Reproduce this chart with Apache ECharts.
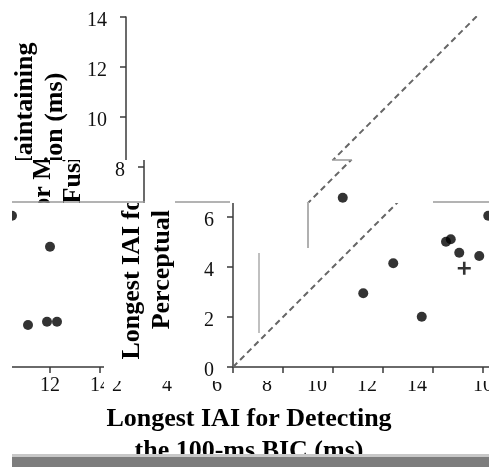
<!DOCTYPE html>
<html>
<head>
<meta charset="utf-8">
<script src="https://cdn.jsdelivr.net/npm/echarts@6/dist/echarts.min.js"></script>
<style>
  html, body { margin: 0; padding: 0; background: #fff; }
  #page { position: relative; width: 489px; height: 467px; overflow: hidden; background: #fff; }
  .tile { position: absolute; overflow: hidden; }
  .tile > div { position: absolute; width: 700px; height: 467px; }
  #overlay { position: absolute; left: 0; top: 0; width: 489px; height: 467px; }
</style>
</head>
<body>
<div id="page"></div>
<script>
// tick values
const xTicks = [0, 2, 4, 6, 8, 10, 12, 14, 16];
const yTicks = [0, 2, 4, 6, 8, 10, 12, 14];

// longest IAI for detecting the BIC (x) vs. for maintaining fusion (y), in ms
const detectIAI = [5.21, 6.41, 7.55, 7.95, 8.52, 8.71, 9.05, 9.85, 10.21, 10.48, 11.12, 11.88, 12.0, 12.28];
const fusionIAI = [2.95, 4.15, 2.01, 6.77, 5.01, 5.11, 4.57, 4.44, 6.05, 6.05, 1.68, 1.81, 4.81, 1.81];

// the one listener drawn with a cross
const crossDetect = [9.25];
const crossFusion = [3.95];

// equality line y = x
const diagonal = [0, 16];

const xName = 'Longest IAI for Detecting\nthe 100-ms BIC (ms)';
const yName = 'Longest IAI for Maintaining\nPerceptual Fusion (ms)';

// pieces of the picture: screen rect and horizontal shift of the full chart
const tiles = [
  { x: 0,   y: 0,   w: 489, h: 160, dx: -107 },
  { x: 0,   y: 160, w: 489, h: 43,  dx: -89 },
  { x: 104, y: 203, w: 385, h: 173, dx: 0 },
  { x: 12,  y: 203, w: 92,  h: 195, dx: -483 },
  { x: 104, y: 381, w: 336, h: 17,  dx: -166 },
  { x: 440, y: 381, w: 49,  h: 17,  dx: 0 },
  { x: 0,   y: 398, w: 489, h: 59,  dx: -184 }
];

const serif = 'Liberation Serif';
const axisColor = '#3a3a3a';

function makeOption() {
  return {
    animation: false,
    grid: { left: 233, top: 17, width: 400, height: 350, outerBoundsMode: 'none' },
    xAxis: {
      type: 'value',
      min: xTicks[0],
      max: xTicks[xTicks.length - 1],
      interval: xTicks[1] - xTicks[0],
      axisLine: { show: true, lineStyle: { color: axisColor, width: 1.5 } },
      axisTick: { show: true, length: 6, lineStyle: { color: axisColor, width: 1.5 } },
      axisLabel: { margin: 9, fontSize: 20, fontFamily: serif, color: '#111' },
      splitLine: { show: false },
      name: xName,
      nameLocation: 'middle',
      nameGap: 36,
      nameTextStyle: { fontFamily: serif, fontWeight: 'bold', fontSize: 26, lineHeight: 32, color: '#000' }
    },
    yAxis: {
      type: 'value',
      min: yTicks[0],
      max: yTicks[yTicks.length - 1],
      interval: yTicks[1] - yTicks[0],
      axisLine: { show: true, lineStyle: { color: axisColor, width: 1.5 } },
      axisTick: { show: true, length: 6, lineStyle: { color: axisColor, width: 1.5 } },
      axisLabel: {
        margin: 19,
        formatter: '{v|{value}}',
        rich: { v: { fontSize: 20, fontFamily: serif, color: '#111', padding: [8, 0, 0, 0] } }
      },
      splitLine: { show: false },
      name: yName,
      nameLocation: 'middle',
      nameRotate: 90,
      nameGap: 56,
      nameTextStyle: { fontFamily: serif, fontWeight: 'bold', fontSize: 26, lineHeight: 30, color: '#000', padding: [0, 18, 0, 0] }
    },
    series: [
      {
        type: 'line',
        data: diagonal.map(v => [v, v]),
        symbol: 'none',
        silent: true,
        lineStyle: { color: '#666', width: 2, type: [6, 4] }
      },
      {
        type: 'scatter',
        data: detectIAI.map((v, i) => [v, fusionIAI[i]]),
        symbol: 'circle',
        symbolSize: 10,
        clip: false,
        itemStyle: { color: '#000' }
      },
      {
        type: 'scatter',
        data: crossDetect.map((v, i) => [v, crossFusion[i]]),
        symbol: 'path://M4,0h2v4h4v2h-4v4h-2v-4h-4v-2h4z',
        symbolSize: 13,
        clip: false,
        itemStyle: { color: '#000' }
      }
    ]
  };
}

const page = document.getElementById('page');
tiles.forEach(t => {
  const tile = document.createElement('div');
  tile.className = 'tile';
  tile.style.left = t.x + 'px';
  tile.style.top = t.y + 'px';
  tile.style.width = t.w + 'px';
  tile.style.height = t.h + 'px';
  const holder = document.createElement('div');
  holder.style.left = (t.dx - t.x) + 'px';
  holder.style.top = (-t.y) + 'px';
  tile.append(holder);
  page.append(tile);
  const chart = echarts.init(holder, null, { renderer: 'canvas' });
  chart.setOption(makeOption());
});

// seams between the pieces
const overlayDiv = document.createElement('div');
overlayDiv.id = 'overlay';
page.append(overlayDiv);
const overlay = echarts.init(overlayDiv);
const seam = { stroke: '#9a9a9a', lineWidth: 1.5 };
overlay.setOption({
  animation: false,
  graphic: [
    { type: 'line', shape: { x1: 12, y1: 202, x2: 145, y2: 202 }, style: seam },
    { type: 'line', shape: { x1: 175, y1: 202, x2: 230, y2: 202 }, style: seam },
    { type: 'line', shape: { x1: 433, y1: 202, x2: 489, y2: 202 }, style: seam },
    { type: 'line', shape: { x1: 332, y1: 160, x2: 352, y2: 160 }, style: seam },
    { type: 'line', shape: { x1: 308, y1: 202, x2: 308, y2: 248 }, style: { stroke: '#b0b0b0', lineWidth: 2 } },
    { type: 'line', shape: { x1: 259, y1: 253, x2: 259, y2: 333 }, style: { stroke: '#c0c0c0', lineWidth: 2 } },
    { type: 'rect', shape: { x: 12, y: 454, width: 477, height: 3 }, style: { fill: '#c8c8c8' } },
    { type: 'rect', shape: { x: 12, y: 457, width: 477, height: 10 }, style: { fill: '#7d7d7d' } }
  ]
});
</script>
</body>
</html>
